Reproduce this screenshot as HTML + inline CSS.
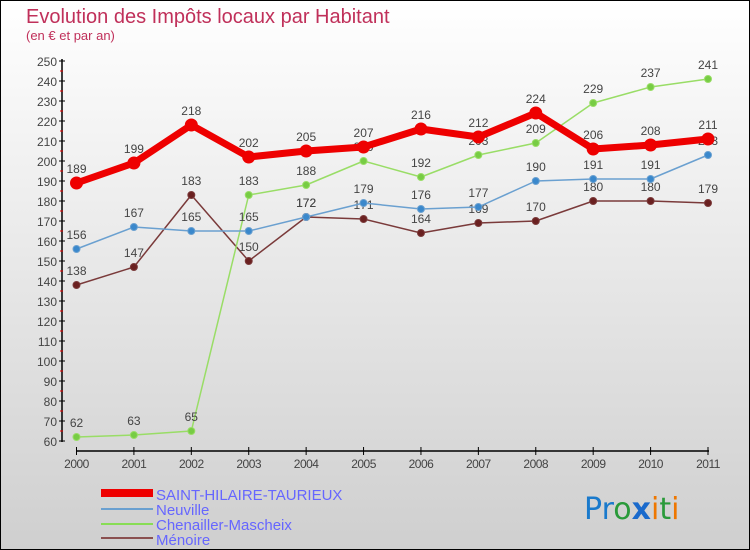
<!DOCTYPE html>
<html><head><meta charset="utf-8"><style>
body{margin:0}
#c{width:750px;height:550px;position:relative;overflow:hidden;box-sizing:border-box;border:1px solid #000;background:linear-gradient(#ffffff,#cfcfcf);font-family:"Liberation Sans",sans-serif}
</style></head><body>
<div id="c">
<svg id="s" width="750" height="550" style="position:absolute;left:0;top:0">
<text x="25" y="22" font-size="20" fill="#c0305a">Evolution des Impôts locaux par Habitant</text>
<text x="25" y="39" font-size="13" fill="#c0305a">(en € et par an)</text>
<g id="g"></g>
<g>
<rect x="100" y="488" width="52" height="8" fill="#e00"/>
<text x="155" y="499" font-size="15" fill="#6666ff">SAINT-HILAIRE-TAURIEUX</text>
<line x1="100" y1="508" x2="152" y2="508" stroke="#6aa0d0" stroke-width="2"/>
<text x="155" y="514" font-size="15" fill="#6666ff">Neuville</text>
<line x1="100" y1="523" x2="152" y2="523" stroke="#88dd55" stroke-width="2"/>
<text x="155" y="529" font-size="15" fill="#6666ff">Chenailler-Mascheix</text>
<line x1="100" y1="537" x2="152" y2="537" stroke="#8a5050" stroke-width="2"/>
<text x="155" y="544" font-size="15" fill="#6666ff">Ménoire</text>
</g>
<text x="583" y="518" font-size="30" font-family="DejaVu Sans, sans-serif"><tspan fill="#1a7acc">Pr</tspan><tspan fill="#2a9a3a">o</tspan><tspan fill="#1a6acc" font-weight="bold">x</tspan><tspan fill="#ee7700">i</tspan><tspan fill="#2a9a3a">t</tspan><tspan fill="#ee7700">i</tspan></text>
</svg>
</div>
<script>
const years=["2000","2001","2002","2003","2004","2005","2006","2007","2008","2009","2010","2011"];
const yTicks=[60,70,80,90,100,110,120,130,140,150,160,170,180,190,200,210,220,230,240,250];
const saintHilaire=[189,199,218,202,205,207,216,212,224,206,208,211];
const neuville=[156,167,165,165,172,179,176,177,190,191,191,203];
const chenailler=[62,63,65,183,188,200,192,203,209,229,237,241];
const menoire=[138,147,183,150,172,171,164,169,170,180,180,179];
const NS="http://www.w3.org/2000/svg";
const g=document.getElementById('g');
const X=i=>75.5+i*(707-75.5)/(years.length-1);
const Y=v=>440-(v-60)*2;
function mk(t,a,p){const e=document.createElementNS(NS,t);for(const k in a)e.setAttribute(k,a[k]);(p||g).appendChild(e);return e;}
const ax=mk('line',{x1:61,y1:58,x2:61,y2:441,stroke:'#000','stroke-width':1.5});


yTicks.forEach(v=>{mk('line',{x1:58,y1:Y(v),x2:64,y2:Y(v),stroke:'#000'});
 if(v<250)mk('line',{x1:59,y1:Y(v+5),x2:62,y2:Y(v+5),stroke:'#e00'});
 const t=mk('text',{x:56,y:Y(v)+5,'text-anchor':'end','font-size':12,fill:'#444'});t.textContent=v;
 
 });
const xa=mk('line',{x1:75,y1:450,x2:708,y2:450,stroke:'#000','stroke-width':1.5});


years.forEach((y,i)=>{mk('line',{x1:X(i),y1:446,x2:X(i),y2:454,stroke:'#000'});
 const t=mk('text',{x:X(i),y:467,'text-anchor':'middle','font-size':12,fill:'#444','letter-spacing':'-0.5'});t.textContent=y;
 
 });
function series(d,name,col,w,r,fill){
 const s=mk('g',{});
 
 
 mk('polyline',{points:d.map((v,i)=>X(i)+','+Y(v)).join(' '),fill:'none',stroke:col,'stroke-width':w,'stroke-linejoin':'round'},s);
 d.forEach((v,i)=>{const c=mk('circle',{cx:X(i),cy:Y(v),r:r,fill:fill,stroke:col,'stroke-width':1},s);
  
  
  const t=mk('text',{x:X(i),y:Y(v)-10,'text-anchor':'middle','font-size':12,fill:'#444'},s);t.textContent=v;
  
  });
}
series(menoire,'menoire-series','#7a3a3a',1.5,3.5,'#6a2020');
series(chenailler,'chenailler-series','#99dd66',1.5,3.5,'#77cc44');
series(neuville,'neuville-series','#6aa0d0',1.5,3.5,'#3a88cc');
series(saintHilaire,'saint-hilaire-series','#ee0000',7,6,'#ee0000');
</script>
</body></html>
